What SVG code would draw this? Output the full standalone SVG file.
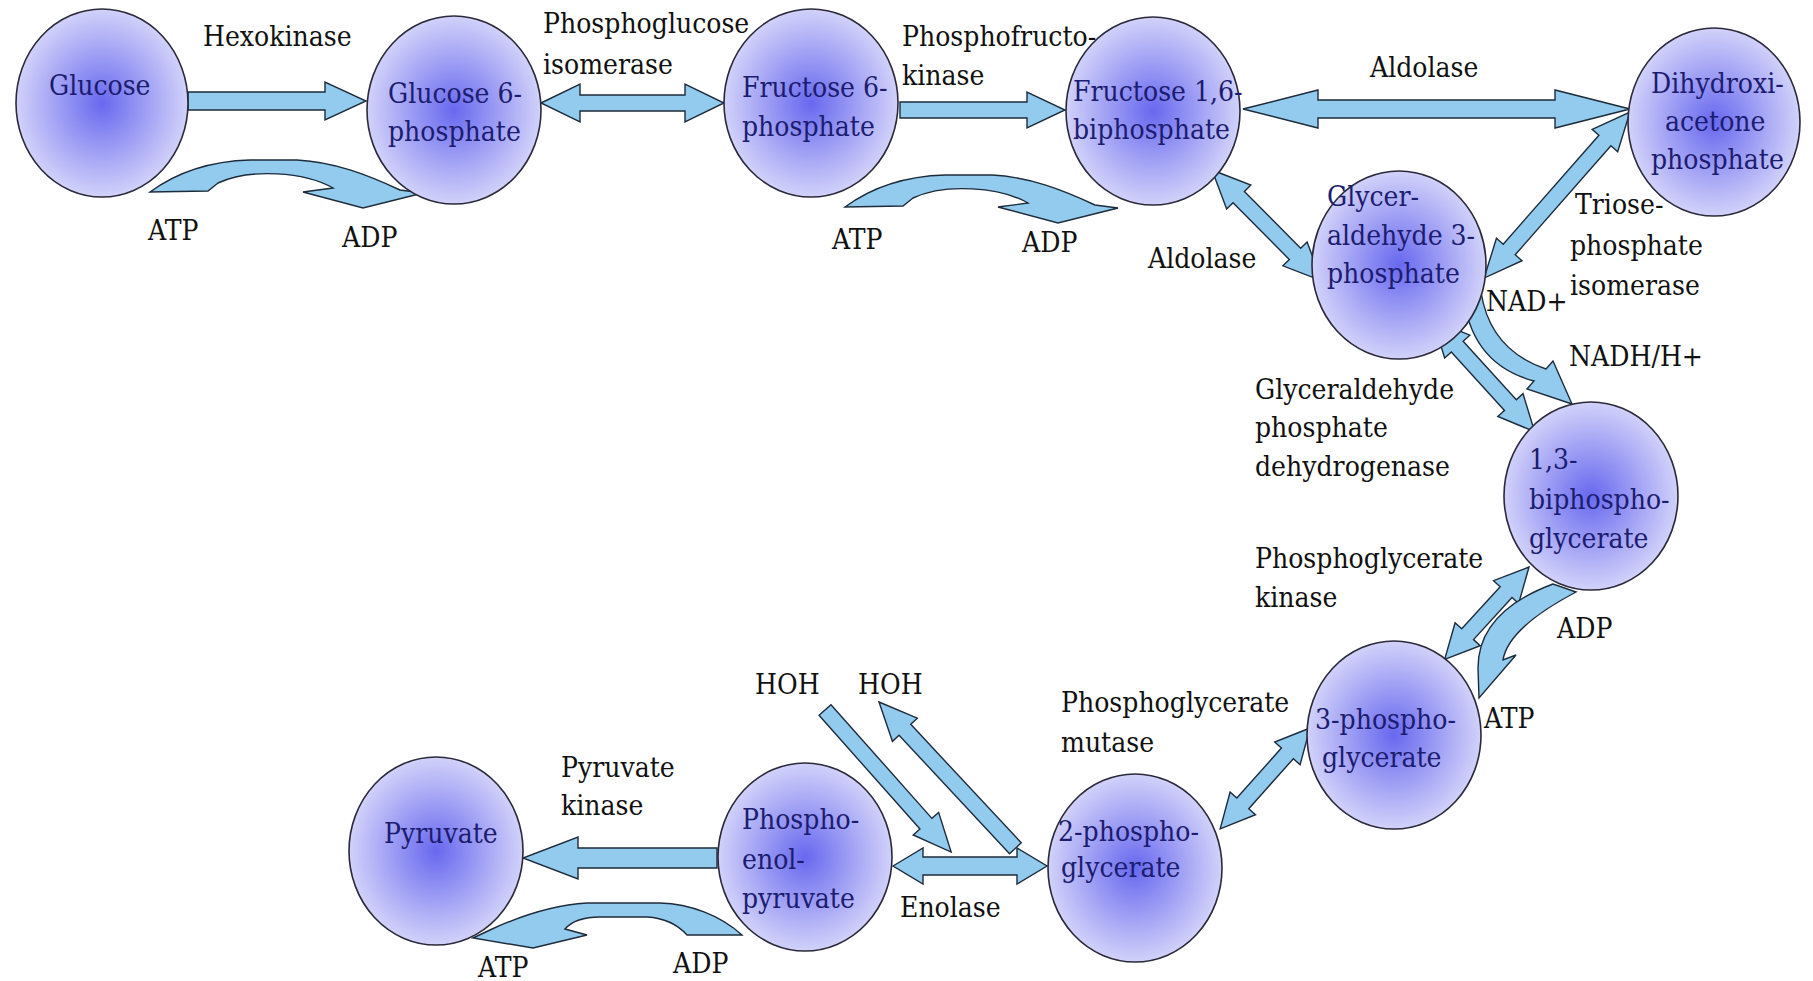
<svg xmlns="http://www.w3.org/2000/svg" width="1813" height="981" viewBox="0 0 1813 981">
<defs>
<radialGradient id="g" cx="50%" cy="50%" r="55%">
<stop offset="0" stop-color="#6868ef"/>
<stop offset="1" stop-color="#dcdcfb"/>
</radialGradient>
<style>
.node ellipse{fill:url(#g);stroke:#2a2a3a;stroke-width:1.6}
.nt{font-family:"DejaVu Serif Condensed","DejaVu Serif",serif;font-stretch:condensed;font-size:28px;fill:#1c1c70}
.lb{font-family:"DejaVu Serif Condensed","DejaVu Serif",serif;font-stretch:condensed;font-size:28px;fill:#111}
.ar{fill:#92cbee;stroke:#1d2b3a;stroke-width:1.4;stroke-linejoin:miter}
</style>
</defs>
<rect width="1813" height="981" fill="#fff"/>
<g id="connectors">
<polygon class="ar" points="188,92 325,92 325,82 366,101 325,120 325,110 188,110"/>
<polygon class="ar" points="541,103 580,84 580,95 685,95 685,84 724,103 685,122 685,111 580,111 580,122"/>
<polygon class="ar" points="900,102 1027,102 1027,92 1065,110 1027,128 1027,118 900,118"/>
<polygon class="ar" points="1243,109 1318,90 1318,100 1555,100 1555,90 1630,109 1555,128 1555,118 1318,118 1318,128"/>
<polygon class="ar" transform="translate(1212,170) rotate(45.3)" points="0,0 38,-17 38,-8 118,-8 118,-17 156,0 118,17 118,8 38,8 38,17"/>
<polygon class="ar" transform="translate(1630,112) rotate(131.3)" points="0,0 38,-17 38,-8 183,-8 183,-17 221,0 183,17 183,8 38,8 38,17"/>
<polygon class="ar" transform="translate(1433,320) rotate(47.7)" points="0,0 36,-17 36,-8 115,-8 115,-17 151,0 115,17 115,8 36,8 36,17"/>
<polygon class="ar" transform="translate(1529,567) rotate(132.4)" points="0,0 34,-17 34,-8 91,-8 91,-17 125,0 91,17 91,8 34,8 34,17"/>
<polygon class="ar" transform="translate(1310,728) rotate(131.7)" points="0,0 34,-17 34,-8 101,-8 101,-17 135,0 101,17 101,8 34,8 34,17"/>
<polygon class="ar" points="893,866 923,848 923,857 1017,857 1017,848 1047,866 1017,884 1017,875 923,875 923,884"/>
<polygon class="ar" transform="translate(825,710) rotate(48.4)" points="0,-8 152,-8 152,-17 190,0 152,17 152,8 0,8"/>
<polygon class="ar" transform="translate(879,702) rotate(47)" points="0,0 38,-17 38,-8 200,-8 200,8 38,8 38,17"/>
<polygon class="ar" points="717,848 578,848 578,837 523,858 578,879 578,868 717,868"/>
<path class="ar" d="M150,192 C180,170 215,161 250,160 L297,160 C335,162 368,175 400,190 L423,193 L363,208 L303,192 L333,188 C305,172 250,168 218,183 L208,191 Z"/>
<path class="ar" transform="translate(695,15)" d="M150,192 C180,170 215,161 250,160 L297,160 C335,162 368,175 400,190 L423,193 L363,208 L303,192 L333,188 C305,172 250,168 218,183 L208,191 Z"/>
<path class="ar" d="M1463,292 Q1470,364 1534,381 L1527,389 L1572,404 L1553,361 L1546,369 Q1490,350 1481,292 Z"/>
<path class="ar" d="M1553,584 Q1478,612 1478,668 L1479,698 L1516,655 L1503,660 Q1508,628 1576,592 Z"/>
<path class="ar" d="M742,935 C720,915 690,904 660,903 L587,903 C555,905 520,916 490,930 L473,938 L533,948 L587,935 L565,929 C572,921 582,917 600,917 L647,917 C665,918 678,925 687,935 Z"/>
</g>
<g id="glucose" class="node"><ellipse cx="102" cy="103" rx="86" ry="94"/><text class="nt" x="49" y="95">Glucose</text></g>
<g id="glucose-6-phosphate" class="node"><ellipse cx="454" cy="110" rx="87" ry="94"/><text class="nt" x="388" y="103">Glucose 6-</text><text class="nt" x="388" y="141">phosphate</text></g>
<g id="fructose-6-phosphate" class="node"><ellipse cx="811" cy="103" rx="87" ry="94"/><text class="nt" x="742" y="97">Fructose 6-</text><text class="nt" x="742" y="136">phosphate</text></g>
<g id="fructose-16-biphosphate" class="node"><ellipse cx="1153" cy="111" rx="87" ry="94"/><text class="nt" x="1073" y="101">Fructose 1,6-</text><text class="nt" x="1073" y="139">biphosphate</text></g>
<g id="dihydroxiacetone-phosphate" class="node"><ellipse cx="1714" cy="122" rx="86" ry="94"/><text class="nt" x="1651" y="93">Dihydroxi-</text><text class="nt" x="1665" y="131">acetone</text><text class="nt" x="1651" y="169">phosphate</text></g>
<g id="glyceraldehyde-3-phosphate" class="node"><ellipse cx="1399" cy="265" rx="87" ry="94"/><text class="nt" x="1327" y="206">Glycer-</text><text class="nt" x="1327" y="245">aldehyde 3-</text><text class="nt" x="1327" y="283">phosphate</text></g>
<g id="biphosphoglycerate" class="node"><ellipse cx="1591" cy="496" rx="87" ry="94"/><text class="nt" x="1529" y="469">1,3-</text><text class="nt" x="1529" y="509">biphospho-</text><text class="nt" x="1529" y="548">glycerate</text></g>
<g id="phosphoglycerate-3" class="node"><ellipse cx="1394" cy="735" rx="87" ry="94"/><text class="nt" x="1315" y="729">3-phospho-</text><text class="nt" x="1322" y="767">glycerate</text></g>
<g id="phosphoglycerate-2" class="node"><ellipse cx="1135" cy="868" rx="87" ry="94"/><text class="nt" x="1058" y="841">2-phospho-</text><text class="nt" x="1061" y="877">glycerate</text></g>
<g id="phosphoenolpyruvate" class="node"><ellipse cx="805" cy="857" rx="87" ry="94"/><text class="nt" x="742" y="829">Phospho-</text><text class="nt" x="742" y="869">enol-</text><text class="nt" x="742" y="908">pyruvate</text></g>
<g id="pyruvate" class="node"><ellipse cx="436" cy="851" rx="87" ry="94"/><text class="nt" x="384" y="843">Pyruvate</text></g>
<g id="labels">
<text class="lb" x="203" y="46">Hexokinase</text>
<text class="lb" x="543" y="33">Phosphoglucose</text>
<text class="lb" x="543" y="74">isomerase</text>
<text class="lb" x="902" y="46">Phosphofructo-</text>
<text class="lb" x="902" y="85">kinase</text>
<text class="lb" x="1370" y="77">Aldolase</text>
<text class="lb" x="148" y="240">ATP</text>
<text class="lb" x="342" y="247">ADP</text>
<text class="lb" x="832" y="249">ATP</text>
<text class="lb" x="1022" y="252">ADP</text>
<text class="lb" x="1148" y="268">Aldolase</text>
<text class="lb" x="1575" y="214">Triose-</text>
<text class="lb" x="1570" y="255">phosphate</text>
<text class="lb" x="1570" y="295">isomerase</text>
<text class="lb" x="1486" y="311">NAD+</text>
<text class="lb" x="1569" y="366">NADH/H+</text>
<text class="lb" x="1255" y="399">Glyceraldehyde</text>
<text class="lb" x="1255" y="437">phosphate</text>
<text class="lb" x="1255" y="476">dehydrogenase</text>
<text class="lb" x="1255" y="568">Phosphoglycerate</text>
<text class="lb" x="1255" y="607">kinase</text>
<text class="lb" x="1557" y="638">ADP</text>
<text class="lb" x="1484" y="728">ATP</text>
<text class="lb" x="1061" y="712">Phosphoglycerate</text>
<text class="lb" x="1061" y="752">mutase</text>
<text class="lb" x="755" y="694">HOH</text>
<text class="lb" x="858" y="694">HOH</text>
<text class="lb" x="561" y="777">Pyruvate</text>
<text class="lb" x="561" y="815">kinase</text>
<text class="lb" x="900" y="917">Enolase</text>
<text class="lb" x="478" y="977">ATP</text>
<text class="lb" x="673" y="973">ADP</text>
</g>
</svg>
